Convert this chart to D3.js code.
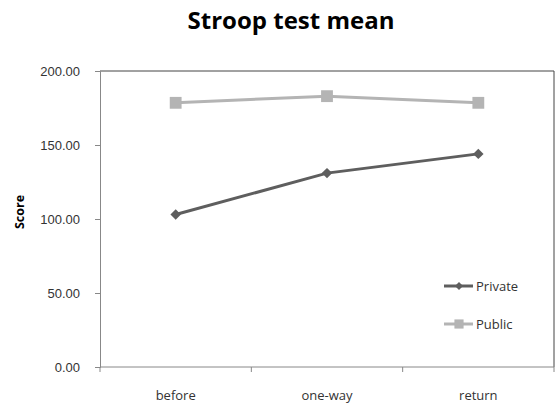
<!DOCTYPE html>
<html>
<head>
<meta charset="utf-8">
<script src="https://cdn.jsdelivr.net/npm/d3@7"></script>
<style>
  body { margin: 0; background: #fff; }
  svg { display: block; font-family: "Open Sans", "Noto Sans", sans-serif; }
</style>
</head>
<body>
<div class="chart"></div>
<script>
var categories = ['before', 'one-way', 'return'];
var privateScores = [103, 131, 144];
var publicScores = [178.5, 183, 178.5];
var yTicks = [0, 50, 100, 150, 200];

var series = [
  { name: 'Private', values: privateScores, color: '#5e5e5e', rotate: 45, size: 55 },
  { name: 'Public', values: publicScores, color: '#b4b4b4', rotate: 0, size: 140 }
];

var width = 556, height = 405;
var padding = { top: 71, right: 2, bottom: 38, left: 100 };

var svg = d3.select('.chart').append('svg')
  .attr('width', width)
  .attr('height', height);

var x = d3.scaleBand()
  .domain(categories)
  .range([padding.left, width - padding.right]);

var y = d3.scaleLinear()
  .domain([0, 200])
  .range([height - padding.bottom, padding.top]);

// title
svg.append('text')
  .attr('x', 291)
  .attr('y', 29)
  .attr('text-anchor', 'middle')
  .attr('font-size', '24px')
  .attr('font-weight', 'bold')
  .attr('fill', '#000')
  .text('Stroop test mean');

// plot frame (top / right)
svg.append('path')
  .attr('d', 'M' + padding.left + ',' + padding.top + 'H' + (width - padding.right) + 'V' + (height - padding.bottom))
  .attr('fill', 'none')
  .attr('stroke', '#444')
  .attr('stroke-width', 1);

// y axis
var yAxis = svg.append('g')
  .attr('transform', 'translate(' + padding.left + ',0)')
  .call(d3.axisLeft(y).tickValues(yTicks).tickSize(5).tickPadding(15).tickFormat(d3.format('.2f')));
yAxis.select('.domain').attr('stroke', '#888');
yAxis.selectAll('.tick line').attr('stroke', '#888');
yAxis.selectAll('text').attr('font-size', '13px').attr('fill', '#333');

// x axis, ticks between categories
var xAxis = svg.append('g')
  .attr('transform', 'translate(0,' + (height - padding.bottom) + ')');
xAxis.append('line')
  .attr('x1', padding.left).attr('x2', width - padding.right)
  .attr('stroke', '#888');
var bounds = [padding.left].concat(categories.map(function(c){ return x(c) + x.bandwidth(); }));
xAxis.selectAll('.xtick').data(bounds).enter().append('line')
  .attr('x1', function(d){ return d; }).attr('x2', function(d){ return d; })
  .attr('y1', 0).attr('y2', 5)
  .attr('stroke', '#888');
xAxis.selectAll('.xlabel').data(categories).enter().append('text')
  .attr('x', function(d){ return x(d) + x.bandwidth() / 2; })
  .attr('y', 33)
  .attr('text-anchor', 'middle')
  .attr('font-size', '13px')
  .attr('fill', '#333')
  .text(function(d){ return d; });

// y title
svg.append('text')
  .attr('transform', 'translate(24,212) rotate(-90)')
  .attr('text-anchor', 'middle')
  .attr('font-size', '12.5px')
  .attr('font-weight', 'bold')
  .attr('fill', '#000')
  .text('Score');

var line = d3.line()
  .x(function(d, i){ return x(categories[i]) + x.bandwidth() / 2; })
  .y(function(d){ return y(d); });

series.slice().reverse().forEach(function(s){
  svg.append('path')
    .datum(s.values)
    .attr('d', line)
    .attr('fill', 'none')
    .attr('stroke', s.color)
    .attr('stroke-width', 3);
  svg.selectAll(null).data(s.values).enter().append('path')
    .attr('d', d3.symbol().type(d3.symbolSquare).size(s.size))
    .attr('transform', function(d, i){
      return 'translate(' + (x(categories[i]) + x.bandwidth() / 2) + ',' + y(d) + ') rotate(' + s.rotate + ')';
    })
    .attr('fill', s.color);
});

// legend
var legend = svg.selectAll('.legend').data(series).enter().append('g')
  .attr('transform', function(d, i){ return 'translate(444,' + (286 + i * 38) + ')'; });
legend.append('line')
  .attr('x1', 0).attr('x2', 29)
  .attr('stroke', function(d){ return d.color; })
  .attr('stroke-width', 3);
legend.append('path')
  .attr('d', function(d){ return d3.symbol().type(d3.symbolSquare).size(d.size * 0.6)(); })
  .attr('transform', function(d){ return 'translate(15,0) rotate(' + d.rotate + ')'; })
  .attr('fill', function(d){ return d.color; });
legend.append('text')
  .attr('x', 32)
  .attr('y', 5)
  .attr('font-size', '13px')
  .attr('fill', '#333')
  .text(function(d){ return d.name; });
</script>
</body>
</html>
